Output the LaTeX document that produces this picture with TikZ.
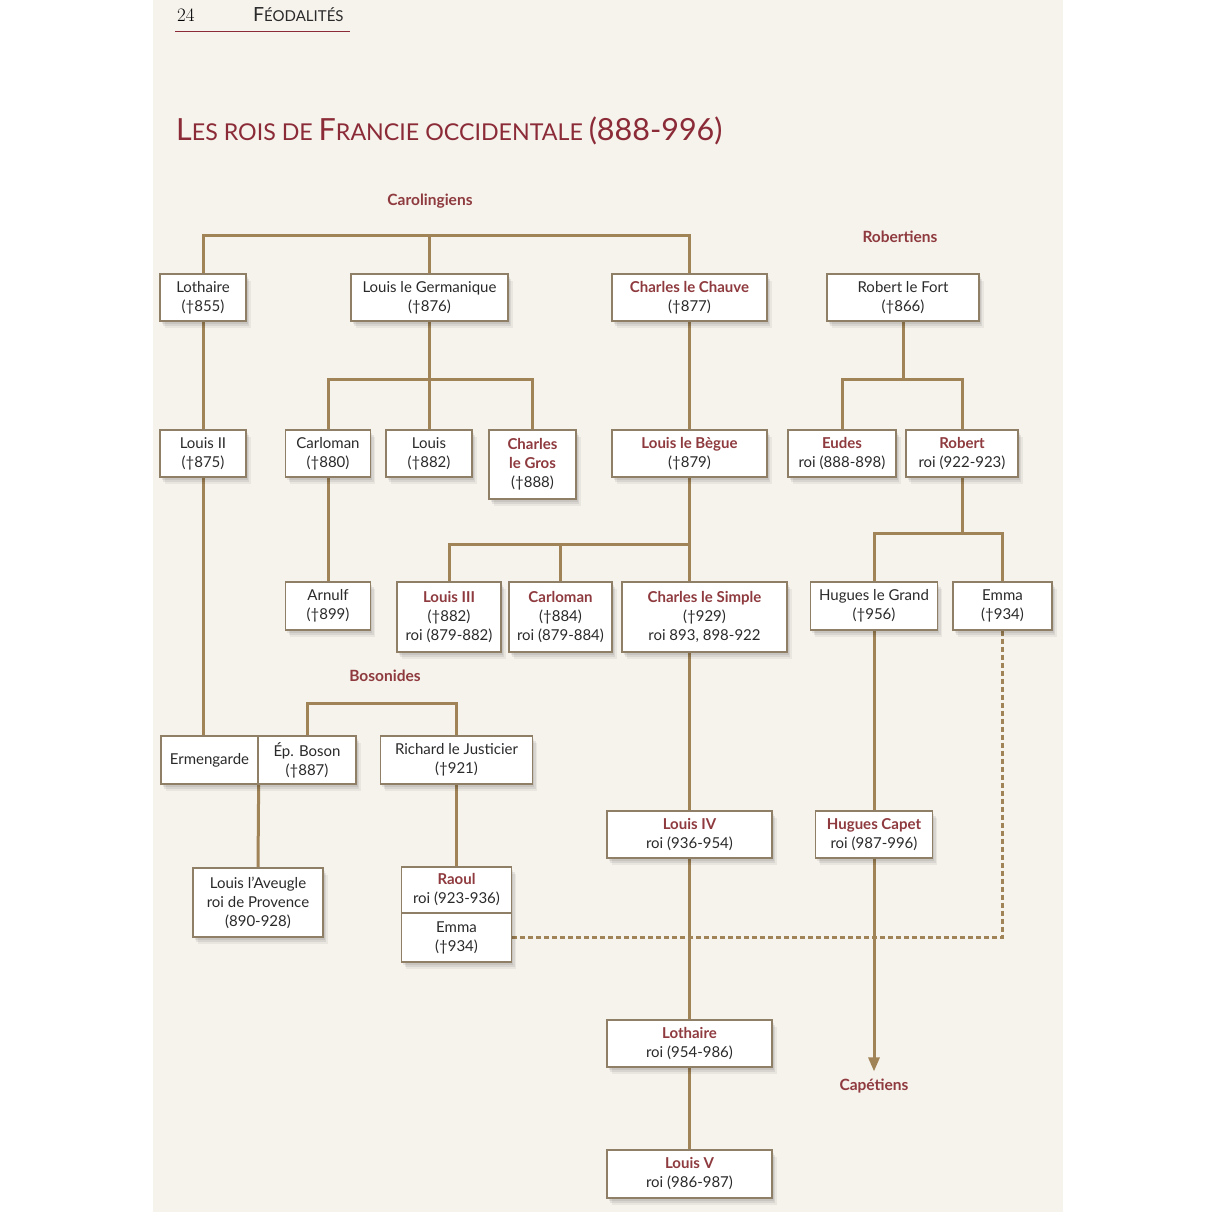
\documentclass[tikz,border=0pt]{standalone}
\usepackage{fontspec}
\newfontfamily\boxfont{Lato}
\definecolor{FeodCream}{HTML}{F6F2EC}
\definecolor{FeodGold}{HTML}{A08356}
\definecolor{FeodFrame}{HTML}{8E7F66}
\definecolor{FeodRed}{HTML}{8E3A3E}
\definecolor{FeodTitle}{HTML}{8B2B37}
\definecolor{FeodInk}{HTML}{2A2A2A}
\usetikzlibrary{arrows.meta,positioning,calc,shadows}
\pgfdeclarelayer{paper}
\pgfdeclarelayer{wires}
\pgfsetlayers{paper,wires,main}
\newcommand{\rex}[1]{{\bfseries\color{FeodRed}#1}}
\newcommand{\titlecap}[1]{{\fontsize{30.5}{30.5}\selectfont #1}}
\newcommand{\headcap}[1]{{\fontsize{19.5}{19.5}\selectfont #1}}

\begin{document}
\begin{tikzpicture}[
    x=1pt, y=-1pt,
    person/.style={
      draw=FeodFrame,
      line width=1.3pt,
      fill=white,
      align=center,
      text=FeodInk,
      inner sep=0pt,
      font=\boxfont\fontsize{15}{19}\selectfont,
      drop shadow={shadow xshift=1.5pt, shadow yshift=-2.5pt, fill=black, opacity=0.07},
      drop shadow={shadow xshift=3pt, shadow yshift=-4.5pt, fill=black, opacity=0.07},
      drop shadow={shadow xshift=4.5pt, shadow yshift=-6.5pt, fill=black, opacity=0.05}
    },
    wh/.style 2 args={minimum width=#1pt, minimum height=#2pt},
    link/.style={draw=FeodGold, line width=3pt},
    marriage/.style={draw=FeodGold, line width=3pt, dash pattern=on 5pt off 3pt},
    dynasty/.style={font=\boxfont\bfseries\fontsize{15.5}{19}\selectfont, text=FeodRed}
  ]
  \useasboundingbox (0,0) rectangle (1212,1212);
  \begin{pgfonlayer}{paper}
    \fill[white] (0,0) rectangle (1212,1212);
    \fill[FeodCream] (153,0) rectangle (1063,1212);
  \end{pgfonlayer}

  % running head and title
  \node[anchor=base west, inner sep=0pt, font=\fontsize{19}{19}\selectfont] (pageno) at (177,22) {24};
  \node[anchor=base west, inner sep=0pt, text=FeodInk, font=\boxfont\fontsize{15}{15}\selectfont] (running) at (253,22) {\headcap{F}ÉODALITÉS};
  \draw[FeodTitle, line width=0.8pt] (175,31) -- (350,31);
  \node[anchor=base west, inner sep=0pt, text=FeodTitle, font=\boxfont\fontsize{23.2}{23.2}\selectfont] (title) at (176,140)
    {\titlecap{L}ES ROIS DE \titlecap{F}RANCIE OCCIDENTALE \titlecap{(888-996)}};

  % generation 1
  \node[person, wh={86}{47}] (lothA) at (203,297.5) {Lothaire\\(†855)};
  \node[person, wh={157}{47}] (lgerm) at (429.5,297.5) {Louis le Germanique\\(†876)};
  \node[person, wh={155}{47}] (chauve) at (689.5,297.5) {\rex{Charles le Chauve}\\(†877)};
  \node[person, wh={152}{47}] (rfort) at (903,297.5) {Robert le Fort\\(†866)};

  % generation 2
  \node[person, wh={86}{47}] (louis2) at (203,453.5) {Louis II\\(†875)};
  \node[person, wh={85}{47}] (carloA) at (328,453.5) {Carloman\\(†880)};
  \node[person, wh={86}{47}] (louisG) at (429,453.5) {Louis\\(†882)};
  \node[person, wh={87}{69}] (gros) at (532.5,464.5) {\rex{Charles}\\\rex{le Gros}\\(†888)};
  \node[person, wh={155}{47}] (begue) at (689.5,453.5) {\rex{Louis le Bègue}\\(†879)};
  \node[person, wh={108}{47}] (eudes) at (842,453.5) {\rex{Eudes}\\roi (888-898)};
  \node[person, wh={112}{47}] (robert) at (962,453.5) {\rex{Robert}\\roi (922-923)};

  % generation 3
  \node[person, wh={85}{48}] (arnulf) at (328,606) {Arnulf\\(†899)};
  \node[person, wh={104}{70}] (louisC) at (449,617) {\rex{Louis III}\\(†882)\\roi (879-882)};
  \node[person, wh={103}{70}] (carloB) at (560.5,617) {\rex{Carloman}\\(†884)\\roi (879-884)};
  \node[person, wh={165}{70}] (simple) at (704.5,617) {\rex{Charles le Simple}\\(†929)\\roi 893, 898-922};
  \node[person, wh={127}{48}] (hgrand) at (874,606) {Hugues le Grand\\(†956)};
  \node[person, wh={99}{48}] (emmaR) at (1002.5,606) {Emma\\(†934)};

  % Bosonides
  \node[person, wh={97}{48}] (ermen) at (209.5,760) {Ermengarde};
  \node[person, wh={98}{48}] (boson) at (307,760) {Ép. Boson\\(†887)};
  \node[person, wh={152}{48}] (richard) at (456.5,760) {Richard le Justicier\\(†921)};
  \node[person, wh={130}{69}] (aveugle) at (258,902.5) {Louis l’Aveugle\\roi de Provence\\(890-928)};
  \node[person, wh={110}{46}] (raoul) at (456.5,890) {\rex{Raoul}\\roi (923-936)};
  \node[person, wh={110}{49}] (emmaB) at (456.5,937.5) {Emma\\(†934)};

  % last kings
  \node[person, wh={165}{47}] (louis4) at (689.5,834.5) {\rex{Louis IV}\\roi (936-954)};
  \node[person, wh={117}{47}] (capet) at (874,834.5) {\rex{Hugues Capet}\\roi (987-996)};
  \node[person, wh={165}{47}] (lothB) at (689.5,1043.5) {\rex{Lothaire}\\roi (954-986)};
  \node[person, wh={165}{48}] (louis5) at (689.5,1174) {\rex{Louis V}\\roi (986-987)};

  % houses
  \node[dynasty] (carolingiens) at (430,201) {Carolingiens};
  \node[dynasty] (robertiens) at (900,237) {Robertiens};
  \node[dynasty] (bosonides) at (385,676) {Bosonides};
  \node[dynasty] (capetiens) at (874,1086) {Capétiens};

  \begin{pgfonlayer}{wires}
    \draw[marriage] (emmaR.south) |- (emmaB.east);
    \coordinate (carBar) at (430,235);
    \draw[link] (lothA.north) |- (carBar -| chauve.north) -- (chauve.north);
    \draw[link] (lgerm.north) -- (lgerm.north |- carBar);
    \draw[link] (lothA.south) -- (louis2.north);
    \draw[link] (louis2.south) -- (louis2.south |- ermen.north);
    \foreach \n in {carloA,louisG,gros}
      \draw[link] (lgerm.south) -- ++(0,58) -| (\n.north);
    \draw[link] (carloA.south) -- (arnulf.north);
    \draw[link] (chauve.south) -- (begue.north);
    \draw[link] (begue.south) -- (begue.south |- simple.north);
    \foreach \n in {louisC,carloB}
      \draw[link] (begue.south) -- ++(0,67) -| (\n.north);
    \draw[link] (simple.south -| begue.south) -- (louis4.north);
    \draw[link] (louis4.south) -- (lothB.north);
    \draw[link] (lothB.south) -- (louis5.north);
    \foreach \n in {eudes,robert}
      \draw[link] (rfort.south) -- ++(0,58) -| (\n.north);
    \foreach \n in {hgrand,emmaR}
      \draw[link] (robert.south) -- ++(0,56) -| (\n.north);
    \draw[link] (hgrand.south) -- (capet.north);
    \draw[link, -{Triangle[length=14pt, width=11pt]}] (capet.south) -- ([yshift=4pt]capetiens.north);
    \draw[link] (boson.north) -- ++(0,-32) -| (richard.north);
    \draw[link] (ermen.south east) -- (aveugle.north);
    \draw[link] (richard.south) -- (raoul.north);
  \end{pgfonlayer}
\end{tikzpicture}
\end{document}
